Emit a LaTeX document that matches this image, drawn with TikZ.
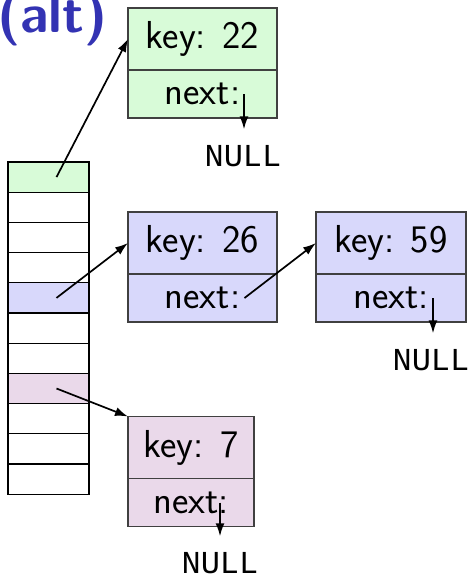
\documentclass[tikz,border=0pt]{standalone}
\usepackage{fontspec}
\newfontfamily\ptrmono{Liberation Mono}
\usetikzlibrary{arrows.meta}
\definecolor{cellgreen}{RGB}{216,251,216}
\definecolor{cellblue}{RGB}{216,216,251}
\definecolor{cellpink}{RGB}{234,217,234}
\definecolor{titleblue}{RGB}{51,51,179}
\begin{document}
\begin{tikzpicture}[x=1pt,y=-1pt,
  cell/.style={draw=black, line width=1.2pt, minimum width=81pt,
    minimum height=30.2pt, inner sep=0pt, outer sep=0pt},
  keypart/.style={draw=black!75, line width=1.2pt, minimum height=62pt,
    inner sep=0pt, outer sep=0pt, font=\fontsize{39}{44}\selectfont\sffamily},
  nextpart/.style={draw=black!75, line width=1.2pt, minimum height=48pt,
    inner sep=0pt, outer sep=0pt, font=\fontsize{39}{44}\selectfont\sffamily},
  nulltext/.style={font=\fontsize{32}{36}\selectfont\ptrmono,
    inner xsep=0pt, inner ysep=16pt, outer sep=0pt},
  ptr/.style={line width=1.7pt, -{Latex[length=13pt,width=9pt]}},
]
\useasboundingbox (0,0) rectangle (470,576);

% heading
\node[anchor=base west, inner sep=0pt, text=titleblue,
  font=\fontsize{54}{60}\selectfont\bfseries\sffamily] (title) at (-3,32) {(alt)};

% hash table slots
\foreach \i/\f in {0/cellgreen,1/white,2/white,3/white,4/cellblue,5/white,
                   6/white,7/cellpink,8/white,9/white,10/white}
  \node[cell, fill=\f] (c\i) at (48.5,{177.1+30.2*\i}) {};

% list nodes
\node[keypart, fill=cellgreen, minimum width=149pt] (k22) at (202.5,39) {key: 22};
\node[nextpart, fill=cellgreen, minimum width=149pt] (n22) at (202.5,94) {next:};

\node[keypart, fill=cellblue, minimum width=149pt] (k26) at (202.5,243) {key: 26};
\node[nextpart, fill=cellblue, minimum width=149pt] (n26) at (202.5,298) {next:};

\node[keypart, fill=cellblue, minimum width=150pt] (k59) at (391,243) {key: 59};
\node[nextpart, fill=cellblue, minimum width=150pt] (n59) at (391,298) {next:};

\node[keypart, fill=cellpink, minimum width=126pt] (k7) at (191,447.5) {key: 7};
\node[nextpart, fill=cellpink, minimum width=126pt] (n7) at (191,502.5) {next:};

% NULL terminators
\node[nulltext] (null22) at (243,156) {NULL};
\node[nulltext] (null59) at (431,360) {NULL};
\node[nulltext] (null7) at (220,563) {NULL};

% next-pointer origins
\coordinate (s22) at ([xshift=41.5pt]n22.center);
\coordinate (s26) at ([xshift=42pt]n26.center);
\coordinate (s59) at ([xshift=42pt]n59.center);
\coordinate (s7) at ([xshift=29pt]n7.center);

% pointers
\draw[ptr] ([xshift=8pt]c0.center) -- (k22.west);
\draw[ptr] ([xshift=8pt]c4.center) -- (k26.west);
\draw[ptr] ([xshift=8pt]c7.center) -- (k7.north west);
\draw[ptr] (s26) -- (k59.west);
\draw[ptr] (s22) -- (s22 |- null22.north);
\draw[ptr] (s59) -- (s59 |- null59.north);
\draw[ptr] (s7) -- (s7 |- null7.north);
\end{tikzpicture}
\end{document}
